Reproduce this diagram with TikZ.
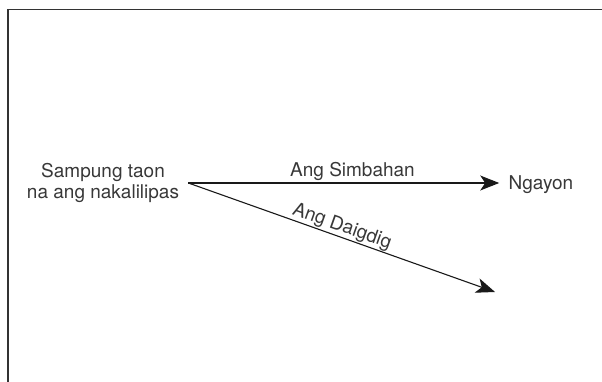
\documentclass[tikz,border=0pt]{standalone}
\usepackage{fontspec}
\setmainfont{TeX Gyre Heros}
\usetikzlibrary{arrows.meta}
\tikzset{
    conn/.style={line width=1.1pt, draw=black!90, -{Stealth[length=19pt,width=15pt,inset=5pt]}}
}
\begin{document}
\begin{tikzpicture}[x=1pt,y=1pt,font=\fontsize{19}{20.5}\selectfont,text=black!78]
        \useasboundingbox (0,0) rectangle (602,-382);
        \draw[line width=1.6pt, black!80] (8,-382) -- (8,-9.5) -- (602,-9.5);
        \node[align=center, outer xsep=6pt] (past) at (103,-183) {Sampung taon\\na ang nakalilipas};
        \node (now) at (541,-185) {Ngayon};
        \coordinate (end) at (495,-292);
        \draw[conn, shorten >=6pt] (past.east) -- node[pos=0.518, above, inner xsep=0pt, inner ysep=2pt] (church) {Ang Simbahan} (past.east -| now.west);
        \draw[conn] (past.east) -- node[pos=0.49, above, sloped, inner sep=0.5pt] (world) {Ang Daigdig} (end);
    \end{tikzpicture}
\end{document}
